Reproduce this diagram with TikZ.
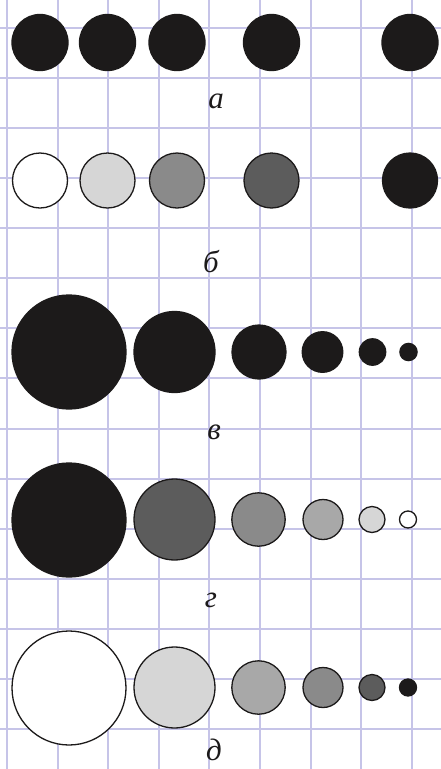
\documentclass[tikz,border=0pt]{standalone}
\usepackage{fontspec}
\setmainfont{Liberation Serif}
\usepackage{xcolor}
\definecolor{cGrid}{HTML}{C6C4E8}
\definecolor{cInk}{HTML}{1C1A1A}
\definecolor{cG1}{HTML}{D6D6D6}
\definecolor{cG2}{HTML}{A8A8A8}
\definecolor{cG3}{HTML}{8A8A8A}
\definecolor{cG4}{HTML}{5C5C5C}
\tikzset{
  gridline/.style={draw=cGrid,line width=1.9pt},
  disc/.style={draw=cInk,line width=1.3pt},
  lbl/.style={font=\fontsize{31}{31}\selectfont\itshape,text=cInk,inner sep=0pt},
}

\begin{document}
\begin{tikzpicture}[x=1pt,y=-1pt]
  \useasboundingbox (0,0) rectangle (441,769);
  \fill[white] (0,0) rectangle (441,769);
  % squared paper
  \foreach \gx in {7,57.6,108.2,158.8,209.4,260,310.6,361.2,411.8}
    \draw[gridline] (\gx,0) -- (\gx,769);
  \foreach \gy in {28,78,128,178,228,278,328,378,429,479,529,579,629,679,729}
    \draw[gridline] (0,\gy) -- (441,\gy);
  % a
  \filldraw[disc,fill=cInk] (40,42.5) circle (28);
  \filldraw[disc,fill=cInk] (107.5,42.5) circle (28);
  \filldraw[disc,fill=cInk] (177,42.5) circle (28);
  \filldraw[disc,fill=cInk] (271.5,42.5) circle (28);
  \filldraw[disc,fill=cInk] (410,42.5) circle (28);
  \node[lbl] (la) at (216,101) {а};
  % b
  \filldraw[disc,fill=white] (40,180.5) circle (27.5);
  \filldraw[disc,fill=cG1] (107.5,180.5) circle (27.5);
  \filldraw[disc,fill=cG3] (177,180.5) circle (27.5);
  \filldraw[disc,fill=cG4] (271.5,180.5) circle (27.5);
  \filldraw[disc,fill=cInk] (410,180.5) circle (27.5);
  \node[lbl] (lb) at (211,262) {б};
  % v
  \filldraw[disc,fill=cInk] (69,352) circle (57);
  \filldraw[disc,fill=cInk] (174.5,352) circle (40.5);
  \filldraw[disc,fill=cInk] (259,352) circle (27);
  \filldraw[disc,fill=cInk] (322.5,352) circle (20.3);
  \filldraw[disc,fill=cInk] (372.5,352) circle (13.2);
  \filldraw[disc,fill=cInk] (408.5,352) circle (8.6);
  \node[lbl] (lv) at (214,432) {в};
  % g
  \filldraw[disc,fill=cInk] (69,520) circle (57);
  \filldraw[disc,fill=cG4] (174.5,519.5) circle (40.5);
  \filldraw[disc,fill=cG3] (258.5,519.5) circle (26.7);
  \filldraw[disc,fill=cG2] (323,519.5) circle (20);
  \filldraw[disc,fill=cG1] (372,519.5) circle (13);
  \filldraw[disc,fill=white] (408,519.5) circle (8.5);
  \node[lbl] (lg) at (211,600) {г};
  % d
  \filldraw[disc,fill=white] (69,688) circle (57);
  \filldraw[disc,fill=cG1] (174.5,687.5) circle (40.5);
  \filldraw[disc,fill=cG2] (258.5,687.5) circle (26.7);
  \filldraw[disc,fill=cG3] (323,687.5) circle (20);
  \filldraw[disc,fill=cG4] (372,687.5) circle (13);
  \filldraw[disc,fill=cInk] (408,687.5) circle (8.5);
  \node[lbl] (ld) at (214,750) {д};
\end{tikzpicture}
\end{document}
